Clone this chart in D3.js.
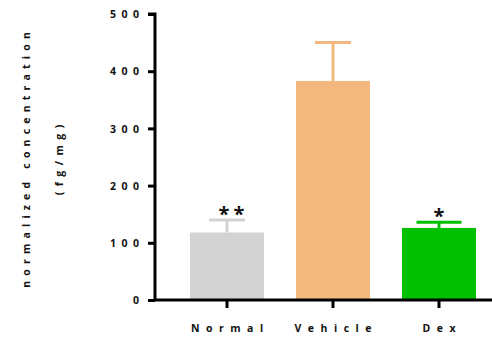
<!DOCTYPE html>
<html><head><meta charset="utf-8">
<script src="https://cdn.jsdelivr.net/npm/d3@7"></script>
<style>body{margin:0;background:#fff}svg{display:block}text{font-family:"Open Sans",sans-serif;font-weight:700;fill:#111}</style>
</head><body>
<script>
const categories = ["Normal","Vehicle","Dex"];
const values = [118, 383, 126];
const errors = [22, 67, 10];
const stars = ["**","","*"];
const yTicks = [0,100,200,300,400,500];
const colors = ["#d3d3d3","#f2b87d","#00c000"];

const W=492,H=338;
const svg=d3.select("body").append("svg").attr("width",W).attr("height",H);
const x0=155, x1=492, yTop=14, yBot=300;
const x=d3.scaleBand().domain(categories).range([174,492]).paddingInner(0.302).paddingOuter(0.151);
const y=d3.scaleLinear().domain([0,500]).range([yBot,yTop]);

// bars
svg.selectAll("rect.bar").data(categories).join("rect")
  .attr("x",d=>x(d)).attr("width",x.bandwidth())
  .attr("y",(d,i)=>y(values[i])).attr("height",(d,i)=>yBot-y(values[i]))
  .attr("fill",(d,i)=>colors[i]);
// error bars
const capW=[36,36,45];
const starLS=4;
categories.forEach((c,i)=>{
  const cx=x(c)+x.bandwidth()/2;
  const top=y(values[i]+errors[i]);
  svg.append("line").attr("x1",cx).attr("x2",cx).attr("y1",y(values[i])).attr("y2",top)
    .attr("stroke",colors[i]).attr("stroke-width",3);
  svg.append("line").attr("x1",cx-capW[i]/2).attr("x2",cx+capW[i]/2).attr("y1",top).attr("y2",top)
    .attr("stroke",colors[i]).attr("stroke-width",3);
  if(stars[i]) svg.append("text").attr("x",cx).attr("y",top+1).attr("text-anchor","middle")
    .attr("dx",starLS/2+(stars[i].length>1?4.5:0))
    .style("font-size","20px").style("letter-spacing",starLS+"px").attr("fill","#222").text(stars[i]);
});

// y axis
const ya=svg.append("g").attr("transform",`translate(${x0},0)`)
  .call(d3.axisLeft(y).tickValues(yTicks).tickSize(7).tickPadding(9).tickFormat(d=>String(d)));
ya.select(".domain").attr("stroke","#000").attr("stroke-width",3).attr("d",`M-7,${yTop}H0V${yBot}`);
ya.selectAll(".tick line").attr("stroke","#000").attr("stroke-width",3);
ya.selectAll(".tick text").style("font-size","10.5px").style("letter-spacing","5.5px").attr("dx","5.5px").attr("fill","#111").attr("dy","0.36em");

// x axis
const xa=svg.append("g").attr("transform",`translate(0,${yBot})`)
  .call(d3.axisBottom(x).tickSize(8).tickPadding(16.5));
xa.select(".domain").attr("stroke","#000").attr("stroke-width",3).attr("d",`M${x0-1.5},0H${x1}`);
xa.selectAll(".tick line").attr("stroke","#000").attr("stroke-width",3);
xa.selectAll(".tick text").style("font-size","10.5px").style("letter-spacing","6.5px").attr("dx","3.25px").attr("fill","#111");

// y title
svg.append("text").attr("transform","translate(29.5,160) rotate(-90)").attr("text-anchor","middle")
  .style("font-size","10.5px").style("letter-spacing","5.2px").attr("dx","2.6px").text("normalized concentration");
svg.append("text").attr("transform","translate(63,160) rotate(-90)").attr("text-anchor","middle")
  .style("font-size","10.5px").style("letter-spacing","5.5px").attr("dx","2.75px").text("(fg/mg)");
</script>
</body></html>
